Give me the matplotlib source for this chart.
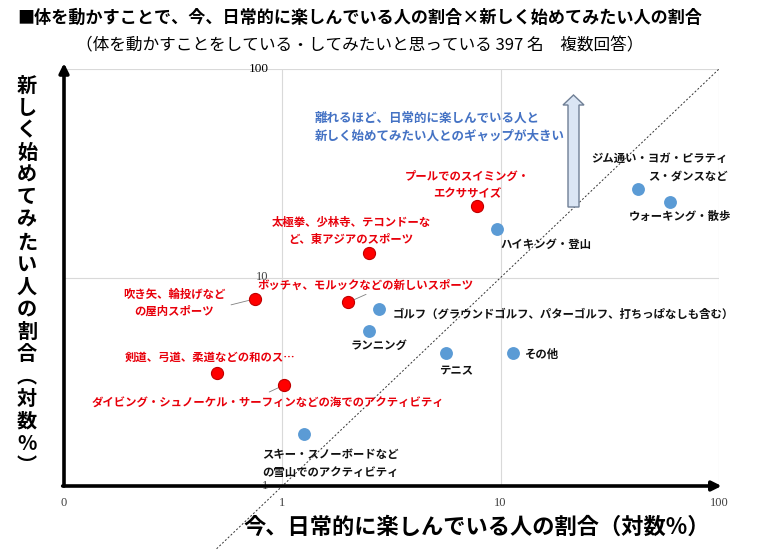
import matplotlib.pyplot as plt
from matplotlib.patches import Polygon

plt.rcParams['font.family'] = ['Noto Sans CJK JP', 'DejaVu Sans']

# 赤: 新しく始めてみたい人の割合が高い種目
red_names = ['プールでのスイミング・\nエクササイズ',
             '太極拳、少林寺、テコンドーな\nど、東アジアのスポーツ',
             '吹き矢、輪投げなど\nの屋内スポーツ',
             'ボッチャ、モルックなどの新しいスポーツ',
             '剣道、弓道、柔道などの和のス…',
             'ダイビング・シュノーケル・サーフィンなどの海でのアクティビティ']
red_now = [7.8, 2.5, 0.75, 2.0, 0.5, 1.02]
red_new = [22.1, 13.1, 7.9, 7.6, 3.5, 3.05]

# 青: その他の種目
blue_names = ['ジム通い・ヨガ・ピラティ\nス・ダンスなど',
              'ウォーキング・散歩',
              'ハイキング・登山',
              'ゴルフ（グラウンドゴルフ、パターゴルフ、打ちっぱなしも含む）',
              'ランニング',
              'テニス',
              'その他',
              'スキー・スノーボードなど\nの雪山でのアクティビティ']
blue_now = [42.4, 59.6, 9.6, 2.78, 2.5, 5.6, 11.4, 1.26]
blue_new = [26.5, 22.9, 17.1, 7.06, 5.54, 4.33, 4.33, 1.77]

x_ticks = [0.1, 1, 10, 100]
x_tick_labels = ['0', '1', '10', '100']
y_ticks = [1, 10, 100]
y_tick_labels = ['1', '10', '100']

title = '■体を動かすことで、今、日常的に楽しんでいる人の割合×新しく始めてみたい人の割合'
subtitle = '（体を動かすことをしている・してみたいと思っている 397 名　複数回答）'
x_title = '今、日常的に楽しんでいる人の割合（対数%）'
y_title = '新しく始めてみたい人の割合︵対数%︶'
note = '離れるほど、日常的に楽しんでいる人と\n新しく始めてみたい人とのギャップが大きい'

# ラベルの位置（点からのピクセルずれ）
red_offsets = [(-10, 21, 'center'), (-18, 22, 'center'), (-81, -4, 'center'),
               (18, 17, 'center'), (-6, 15, 'center'), (-16, -18, 'center')]
blue_offsets = [(90, 22, 'right'), (10, -14, 'center'), (49, -15, 'center'),
                (13, -5, 'left'), (10, -14, 'center'), (10, -17, 'center'),
                (12, -1, 'left'), (-42, -29, 'left')]
leaders = {2: (-24, -6), 3: (18, 8), 5: (-15, -7)}

W, H = 759, 550


def fx(x):
    return x / W


def fy(y):
    return 1 - y / H


fig = plt.figure(figsize=(W / 100, H / 100), dpi=100)
ax = fig.add_axes([fx(64), fy(486), fx(719 - 64), (486 - 69) / H])
ax.set_xscale('log')
ax.set_yscale('log')
ax.set_xlim(0.1, 100)
ax.set_ylim(1, 100)
for s in ax.spines.values():
    s.set_visible(False)

for v in [1, 10, 100]:
    ax.axvline(v, color='#d9d9d9', lw=0.8, zorder=0)
for v in [10, 100]:
    ax.axhline(v, color='#d9d9d9', lw=0.8, zorder=0)

ax.set_xticks(x_ticks)
ax.set_xticklabels(x_tick_labels, family='Liberation Serif', fontsize=9, color='#404040')
ax.xaxis.set_minor_locator(plt.NullLocator())
ax.yaxis.set_minor_locator(plt.NullLocator())
ax.tick_params(axis='x', length=0, pad=8)
ax.set_yticks([])

for v, t in zip(y_ticks, y_tick_labels):
    ax.annotate(t, xy=(1, v), xytext=(-14, 0), textcoords='offset pixels',
                ha='right', va='center', family='Liberation Serif',
                fontsize=9.5 if v == 100 else 9,
                color='black' if v == 100 else '#404040', annotation_clip=False, zorder=3)

# 対角線 (y = x)
ax.plot([0.5, 100], [0.5, 100], ls=(0, (2, 2)), color='#333333', lw=0.7, clip_on=False, zorder=1)

# 軸の矢印
ax.annotate('', xy=(0, 1.014), xytext=(0, 0), xycoords='axes fraction',
            arrowprops=dict(arrowstyle='-|>', lw=2.6, color='black', mutation_scale=14,
                            shrinkA=0, shrinkB=0), annotation_clip=False)
ax.annotate('', xy=(1.004, 0), xytext=(-0.002, 0), xycoords='axes fraction',
            arrowprops=dict(arrowstyle='-|>', lw=2.6, color='black', mutation_scale=14,
                            shrinkA=0, shrinkB=0), annotation_clip=False)

ax.scatter(red_now, red_new, s=76, color='#ff0000', edgecolor='#c00000', lw=0.8, zorder=4,
           clip_on=False)
ax.scatter(blue_now, blue_new, s=86, color='#5b9bd5', lw=0, zorder=4, clip_on=False)

for i, (name, x, y) in enumerate(zip(red_names, red_now, red_new)):
    dx, dy, ha = red_offsets[i]
    ax.annotate(name, xy=(x, y), xytext=(dx, dy), textcoords='offset pixels',
                ha=ha, va='center', multialignment=ha, fontsize=8.2, fontweight='bold',
                color='#e8000b', linespacing=1.45, zorder=5, annotation_clip=False)
    if i in leaders:
        lx, ly = leaders[i]
        ax.annotate('', xy=(x, y), xytext=(lx, ly), textcoords='offset pixels',
                    arrowprops=dict(arrowstyle='-', color='#808080', lw=0.6,
                                    shrinkA=0, shrinkB=4))

for i, (name, x, y) in enumerate(zip(blue_names, blue_now, blue_new)):
    dx, dy, ha = blue_offsets[i]
    ax.annotate(name, xy=(x, y), xytext=(dx, dy), textcoords='offset pixels',
                ha=ha, va='center', multialignment=ha, fontsize=8.2, fontweight='bold',
                color='#111111', linespacing=1.45, zorder=5, annotation_clip=False)

# 注釈テキストと上向きの矢印
fig.text(fx(315), fy(127), note, ha='left', va='center', fontsize=9, fontweight='bold',
         color='#4472c4', linespacing=1.55)
arrow_px = [(568, 207), (579, 207), (579, 105), (584, 105), (573.5, 95), (563, 105), (568, 105)]
fig.patches.append(Polygon([(fx(x), fy(y)) for x, y in arrow_px], closed=True,
                           transform=fig.transFigure, facecolor='#dae5f4',
                           edgecolor='#6f7f95', lw=1.0))

# タイトル
fig.text(fx(360), fy(18), title, ha='center', va='center', fontsize=12.3, fontweight='bold')
fig.text(fx(360), fy(46), subtitle, ha='center', va='center', fontsize=12)

# 軸タイトル
fig.text(fx(477), fy(527), x_title, ha='center', va='center', fontsize=16, fontweight='bold')
for k, ch in enumerate(y_title):
    fig.text(fx(27), fy(85 + k * 22.4), ch, ha='center', va='center', fontsize=14.5,
             fontweight='bold')

fig.savefig('out.png', dpi=100)
